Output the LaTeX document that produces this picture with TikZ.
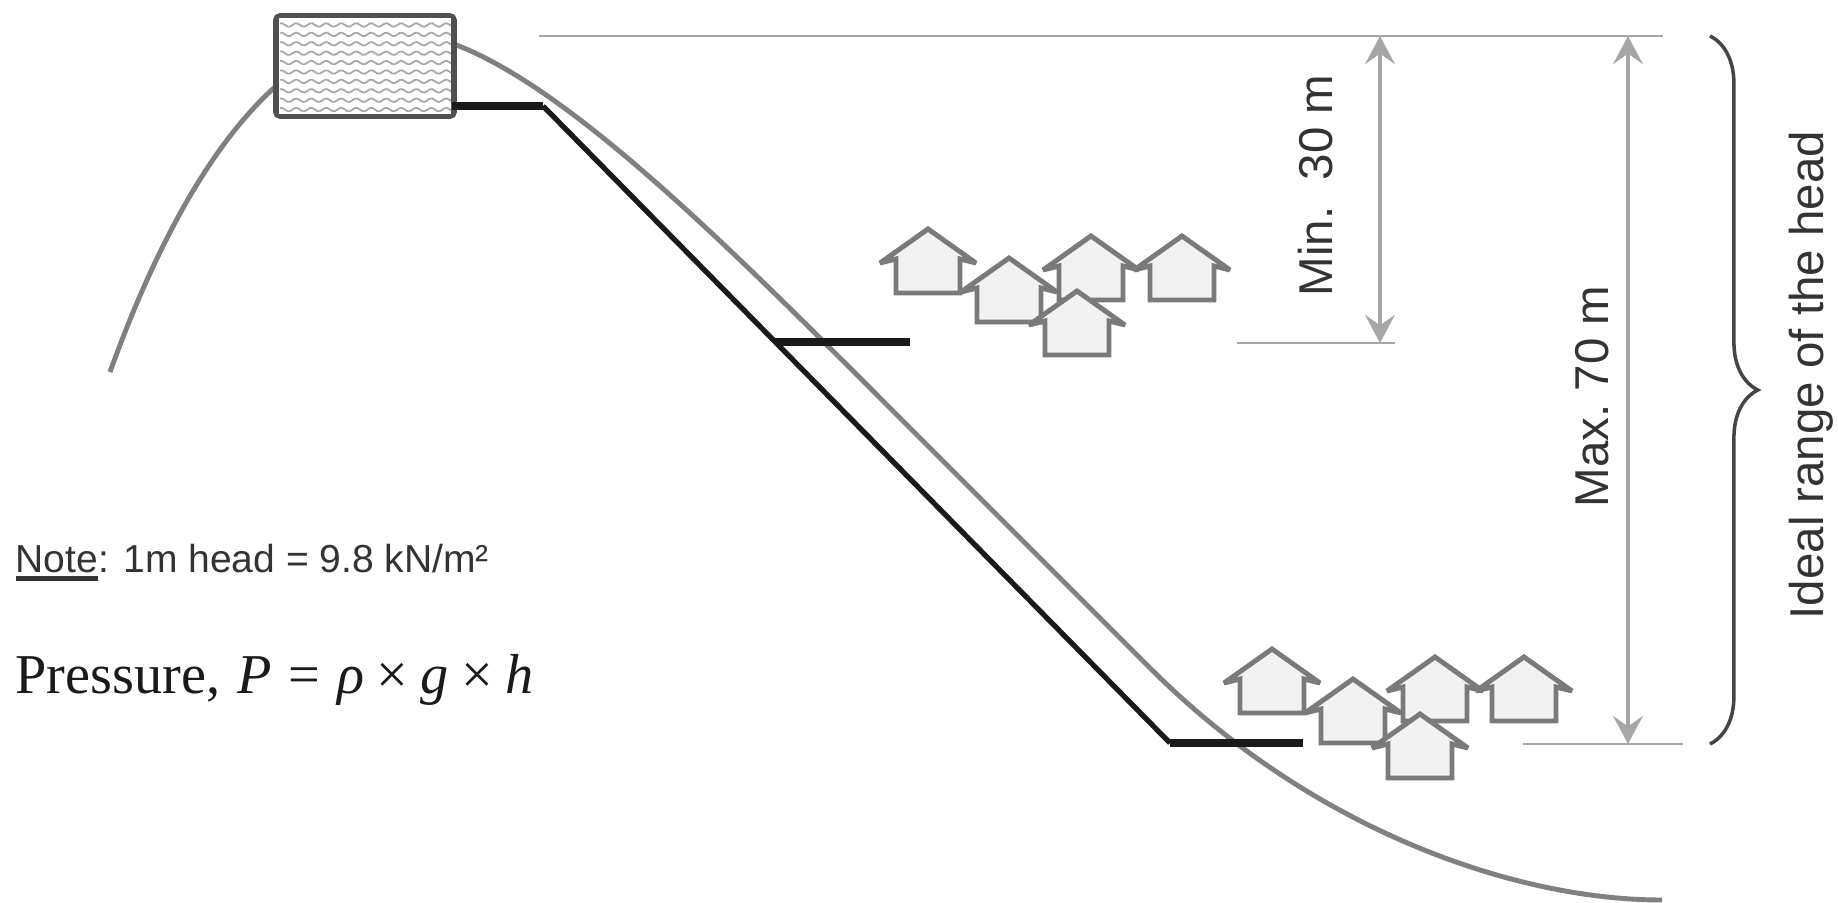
\documentclass[tikz,border=0pt]{standalone}
\usepackage{fontspec}
\setmainfont{Liberation Sans}
\newfontfamily\seriffont{Liberation Serif}
\usetikzlibrary{arrows.meta,decorations.pathreplacing}

\definecolor{hill}{HTML}{808080}
\definecolor{pipe}{HTML}{1A1A1A}
\definecolor{dim}{HTML}{A6A6A6}
\definecolor{housefill}{HTML}{F2F2F2}
\definecolor{houseline}{HTML}{7A7A7A}
\definecolor{labeltext}{HTML}{333333}
\definecolor{tankline}{HTML}{505050}
\definecolor{wave}{HTML}{A8A8A8}
\definecolor{bracecol}{HTML}{454545}

\newcommand\thickul[1]{\setbox0\hbox{#1}\rlap{\color{labeltext}\rule[-2.6pt]{\wd0}{1.4pt}}\box0}

\tikzset{
  hillline/.style={draw=hill, line width=1.4pt},
  pipeline/.style={draw=pipe, line width=1.5pt, line join=miter},
  pipestub/.style={draw=pipe, line width=2.1pt},
  dimline/.style={draw=dim, line width=0.6pt},
  dimarrow/.style={draw=dim, line width=0.9pt,
    {Stealth[length=8pt,width=8.5pt,inset=3pt]}-{Stealth[length=8pt,width=8.5pt,inset=3pt]}},
  vlabel/.style={text=labeltext, font=\fontsize{13.5}{16}\selectfont,
    rotate=90, anchor=base west, inner sep=0pt},
  house/.pic={
    \path[fill=housefill, draw=houseline, line width=1.4pt, line join=miter, miter limit=2]
      (-32,65) -- (-32,31) -- (-48,35) -- (0,1) -- (48,35) -- (32,31) -- (32,65) -- cycle;
  }
}

\begin{document}
\begin{tikzpicture}[x=0.01cm, y=-0.01cm]
\useasboundingbox (0,0) rectangle (1838,903);

% ground profile of the hill
\draw[hillline] (110,372) .. controls (190,150) and (290,33) .. (400,33)
  .. controls (520,33) and (720,238) .. (900,418)
  -- (1150,668) .. controls (1310,828) and (1512,900) .. (1662,900);

% storage tank with water hatching
\node[draw=tankline, fill=white, line width=1.1pt, rounded corners=1.5pt,
      minimum width=1.80cm, minimum height=1.02cm, inner sep=0pt] (tank) at (365,66) {};
\coordinate (tin1) at ([shift={(5,4)}]tank.north west);
\coordinate (tin2) at ([shift={(-5,-4)}]tank.south east);
\begin{scope}
  \clip (tin1) rectangle (tin2);
  \foreach \r in {0,...,9}
    \draw[wave, line width=0.5pt] plot[domain=280:452, samples=70, smooth]
      (\x, {25 + 9.4*\r + 1.8*sin(24*\x)});
\end{scope}
\draw[tankline, line width=0.6pt] (tin1) rectangle (tin2);

% supply main
\coordinate (p0) at (452,106);
\coordinate (p1) at (543,106);
\coordinate (p2) at (1170,743);
\coordinate (p3) at (1303,743);
\coordinate (b0) at (775.3,342);
\coordinate (b1) at (910,342);
\draw[pipeline] (p1) -- (p2);
\draw[pipestub] (p0) -- (p1);
\draw[pipestub] (b0) -- (b1);
\draw[pipestub] (p2) -- (p3);

% houses on the upper level
\pic (hu1) at (928,228) {house};
\pic (hu2) at (1009,257) {house};
\pic (hu3) at (1091,235) {house};
\pic (hu4) at (1182,235) {house};
\pic (hu5) at (1077,290) {house};

% houses on the lower level
\pic (hl1) at (1272,648) {house};
\pic (hl2) at (1353,678) {house};
\pic (hl3) at (1435,656) {house};
\pic (hl4) at (1524,656) {house};
\pic (hl5) at (1420,713) {house};

% dimension lines
\coordinate (topL) at (539,36);
\coordinate (topR) at (1663,36);
\coordinate (minL) at (1237,343);
\coordinate (minR) at (1395,343);
\coordinate (maxL) at (1523,744);
\coordinate (maxR) at (1683,744);
\coordinate (minTop) at (1380,36);
\coordinate (minBot) at (1380,343);
\coordinate (maxTop) at (1628,36);
\coordinate (maxBot) at (1628,744);
\draw[dimline] (topL) -- (topR);
\draw[dimline] (minL) -- (minR);
\draw[dimline] (maxL) -- (maxR);
\draw[dimarrow] (minTop) -- (minBot);
\draw[dimarrow] (maxTop) -- (maxBot);

\node[vlabel] (minlab) at (1332,297) {Min.\ \ 30 m};
\node[vlabel] (maxlab) at (1608,508) {Max.\ 70 m};

% range brace
\coordinate (brT) at (1710,36);
\coordinate (brB) at (1710,744);
\draw[bracecol, line width=1pt, decorate,
      decoration={brace, amplitude=13.6pt}] (brT) -- (brB);
\node[vlabel] (idealab) at (1823,620) {Ideal range of the head};

% notes
\node[anchor=base west, inner sep=0pt, text=labeltext,
      font=\fontsize{11.1}{13}\selectfont] (note) at (15,572)
  {\thickul{Note}: 1m head = 9.8 kN/m²};
\node[anchor=base west, inner sep=0pt, text=pipe,
      font=\seriffont\fontsize{16}{19}\selectfont] (formula) at (15,693)
  {Pressure,\hspace{0.3em}\textit{P}\hspace{0.3em}=\hspace{0.3em}\textit{ρ}\hspace{0.22em}×\hspace{0.22em}\textit{g}\hspace{0.22em}×\hspace{0.22em}\textit{h}};
\end{tikzpicture}
\end{document}
